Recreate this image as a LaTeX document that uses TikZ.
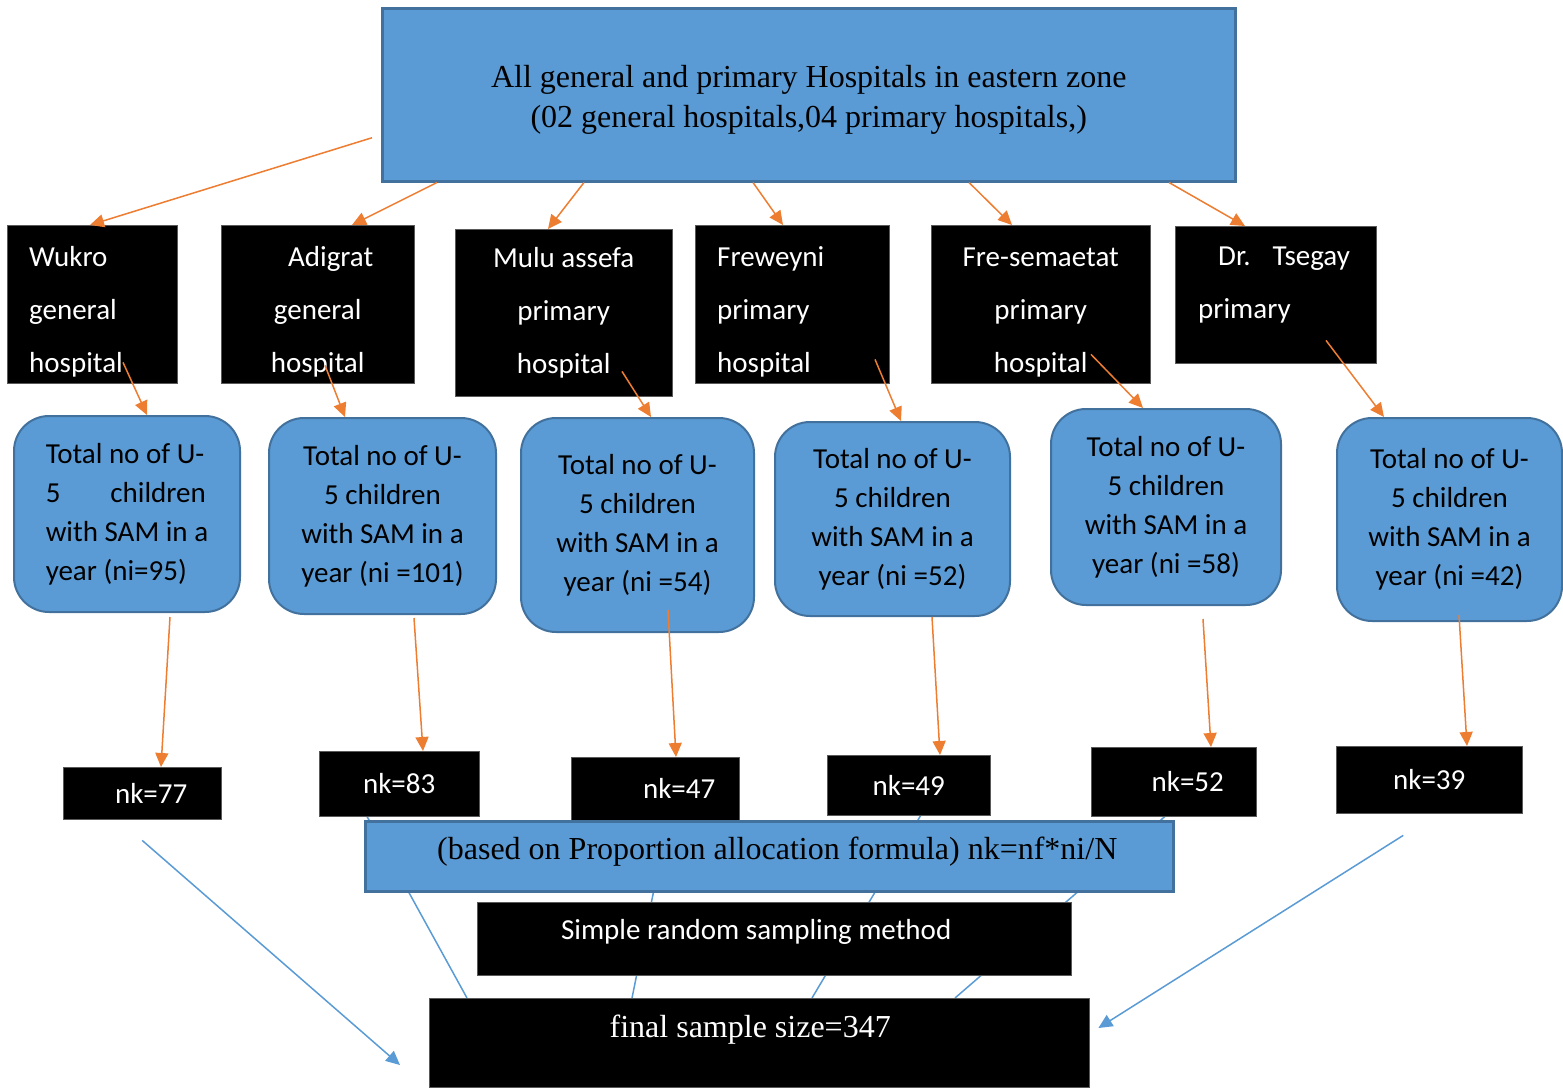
\documentclass[tikz,border=0pt]{standalone}
\usepackage{fontspec}
\setmainfont{Liberation Serif}
\newfontfamily\calibri{Carlito}
\usetikzlibrary{arrows.meta}
\definecolor{boxblue}{HTML}{5B9BD5}
\definecolor{boxedge}{HTML}{41719C}
\definecolor{arrorange}{HTML}{ED7D31}
\pgfdeclarelayer{background}
\pgfsetlayers{background,main}

\begin{document}
\begin{tikzpicture}[x=1pt,y=-1pt]
      \newcommand{\hospheight}[0]{158pt}
      \newcommand{\tipsize}[0]{length=14pt,width=13pt}
      \newcommand{\inset}[0]{22pt}
      \newcommand{\firstpad}[0]{\rule{0pt}{36pt}}

      \useasboundingbox (0,0) rectangle (1563,1087);

      \tikzstyle{box}=[
        rectangle,
        anchor=north west,
        align=center,
        inner sep=0pt,
      ]
      \tikzstyle{band} = [
        box,
        fill=boxblue,
        draw=boxedge,
        line width=2.5pt,
        font=\fontsize{32}{40}\selectfont,
      ]
      \tikzstyle{hosp} = [
        box,
        fill=black,
        draw=black!65,
        text=white,
        minimum height=\hospheight,
        font=\calibri\fontsize{29}{53}\selectfont,
      ]
      \tikzstyle{total} = [
        box,
        rounded corners=35pt,
        fill=boxblue,
        draw=boxedge,
        line width=2pt,
        font=\calibri\fontsize{29}{39}\selectfont,
      ]
      \tikzstyle{share} = [
        box,
        fill=black,
        draw=black!65,
        text=white,
        font=\calibri\fontsize{29}{35}\selectfont,
      ]
      \tikzstyle{flow} = [
        line width=1.5pt,
        -{Triangle[\tipsize]},
        draw=arrorange,
        fill=arrorange,
      ]
      \tikzstyle{sumline} = [
        line width=1.5pt,
        draw=boxblue,
      ]
      \tikzstyle{sumarrow} = [
        sumline,
        -{Triangle[\tipsize]},
        fill=boxblue,
      ]

      % top
      \node[band,minimum width=853pt,minimum height=173pt] (top) at (381,7)
        {\rule{0pt}{33pt}All general and primary Hospitals in eastern zone\\(02 general hospitals,04 primary hospitals,)};

      % hospitals layer
      {
        \node[hosp,align=left,text width=126pt,inner xsep=\inset] (wukro) at (7,225)
          {\firstpad Wukro\\general\\hospital};
        \node[hosp,minimum width=193pt] (adigrat) at (221,225)
          {\firstpad\hspace*{26pt}Adigrat\\general\\hospital};
        \node[hosp,minimum width=217pt,minimum height=167pt] (mulu) at (455,229)
          {Mulu assefa\\primary\\hospital};
        \node[hosp,align=left,text width=150pt,inner xsep=\inset] (freweyni) at (695,225)
          {\firstpad Freweyni\\primary\\hospital};
        \node[hosp,minimum width=219pt] (fresem) at (931,225)
          {\firstpad Fre-semaetat\\primary\\hospital};
        \node[hosp,align=left,text width=155pt,inner xsep=23pt,minimum height=137pt] (tsegay) at (1175,226)
          {\hspace*{20pt}Dr.\hspace{22pt}Tsegay\\primary\rule[-25pt]{0pt}{25pt}};

        \draw[flow] ([yshift=-43pt,xshift=-9pt] top.west) -- ([xshift=83pt] wukro.north west);
        \draw[flow] ([xshift=56pt] top.south west)  -- ([xshift=131pt] adigrat.north west);
        \draw[flow] ([xshift=203pt] top.south west) -- ([xshift=93pt] mulu.north west);
        \draw[flow] ([xshift=372pt] top.south west) -- ([xshift=88pt] freweyni.north west);
        \draw[flow] ([xshift=588pt] top.south west) -- ([xshift=81pt] fresem.north west);
        \draw[flow] ([xshift=788pt] top.south west) -- ([xshift=70pt] tsegay.north west);
      }

      % totals layer
      {
        \node[total,align=left,minimum width=226pt,minimum height=196pt] (totI) at (13,415)
          {Total no of U-\\5\hspace{50pt}children\\with SAM in a\\year (ni=95)};
        \node[total,minimum width=227pt,minimum height=196pt] (totII) at (268,417)
          {Total no of U-\\5 children\\with SAM in a\\year (ni =101)};
        \node[total,minimum width=233pt,minimum height=214pt] (totIII) at (520,417)
          {Total no of U-\\5 children\\with SAM in a\\year (ni =54)};
        \node[total,minimum width=235pt,minimum height=194pt] (totIV) at (774,421)
          {Total no of U-\\5 children\\with SAM in a\\year (ni =52)};
        \node[total,minimum width=230pt,minimum height=196pt] (totV) at (1050,408)
          {Total no of U-\\5 children\\with SAM in a\\year (ni =58)};
        \node[total,minimum width=225pt,minimum height=203pt] (totVI) at (1336,417)
          {Total no of U-\\5 children\\with SAM in a\\year (ni =42)};

        \draw[flow] ([xshift=116pt,yshift=21pt] wukro.south west)    -- ([xshift=134pt] totI.north west);
        \draw[flow] ([xshift=104pt,yshift=18pt] adigrat.south west)  -- ([xshift=77pt] totII.north west);
        \draw[flow] ([xshift=167pt,yshift=25pt] mulu.south west)     -- ([xshift=131pt] totIII.north west);
        \draw[flow] ([xshift=180pt,yshift=24pt] freweyni.south west) -- ([xshift=127pt] totIV.north west);
        \draw[flow] ([xshift=160pt,yshift=29pt] fresem.south west)   -- ([xshift=93pt] totV.north west);
        \draw[flow] ([xshift=151pt,yshift=23pt] tsegay.south west)   -- ([xshift=48pt] totVI.north west);
      }

      % shares layer
      {
        \node[share,minimum width=158pt,minimum height=52pt] (nkI) at (63,767) {\hspace*{18pt}nk=77};
        \node[share,minimum width=160pt,minimum height=65pt] (nkII) at (319,751) {nk=83};
        \node[share,minimum width=168pt,minimum height=63pt] (nkIII) at (571,757) {\hspace*{48pt}nk=47};
        \node[share,minimum width=163pt,minimum height=60pt] (nkIV) at (827,755) {nk=49};
        \node[share,minimum width=165pt,minimum height=69pt] (nkV) at (1091,747) {\hspace*{28pt}nk=52};
        \node[share,minimum width=186pt,minimum height=67pt] (nkVI) at (1336,746) {nk=39};

        \draw[flow] ([xshift=157pt,yshift=-4pt] totI.south west)   -- ([xshift=98pt] nkI.north west);
        \draw[flow] ([xshift=146pt,yshift=-3pt] totII.south west)  -- ([xshift=104pt] nkII.north west);
        \draw[flow] ([xshift=148pt,yshift=23pt] totIII.south west) -- ([xshift=105pt] nkIII.north west);
        \draw[flow] ([xshift=158pt] totIV.south west)              -- ([xshift=113pt] nkIV.north west);
        \draw[flow] ([xshift=153pt,yshift=-13pt] totV.south west)  -- ([xshift=120pt] nkV.north west);
        \draw[flow] ([xshift=123pt,yshift=7pt] totVI.south west)   -- ([xshift=131pt] nkVI.north west);
      }

      % formula, method and final size
      \node[band,minimum width=808pt,minimum height=70pt,text depth=16pt] (formula) at (364,820)
        {\hspace*{16pt}(based on Proportion allocation formula) nk=nf*ni/N};
      \node[share,minimum width=594pt,minimum height=73pt,text depth=18pt] (method) at (477,902)
        {\hspace*{-36pt}Simple random sampling method};
      \node[share,font=\fontsize{32}{40}\selectfont,minimum width=660pt,minimum height=89pt,text depth=32pt] (final) at (429,998)
        {\hspace*{-18pt}final sample size=347};

      % sums into the final size
      \begin{pgfonlayer}{background}
        \draw[sumline] ([xshift=48pt] nkII.south west)  -- ([xshift=38pt] final.north west);
        \draw[sumline] ([xshift=97pt] nkIII.south west) -- ([xshift=203pt] final.north west);
        \draw[sumline] ([xshift=12pt] nkIV.south)       -- ([xshift=383pt] final.north west);
        \draw[sumline] ([xshift=74pt] nkV.south west)   -- ([xshift=526pt] final.north west);
      \end{pgfonlayer}
      \draw[sumarrow] ([yshift=-21pt] nkI.south) -- ([xshift=-29pt,yshift=-67pt] final.north west);
      \draw[sumarrow] ([xshift=-26pt,yshift=-22pt] nkVI.south) -- ([xshift=9pt,yshift=-30pt] final.north east);
\end{tikzpicture}
\end{document}
